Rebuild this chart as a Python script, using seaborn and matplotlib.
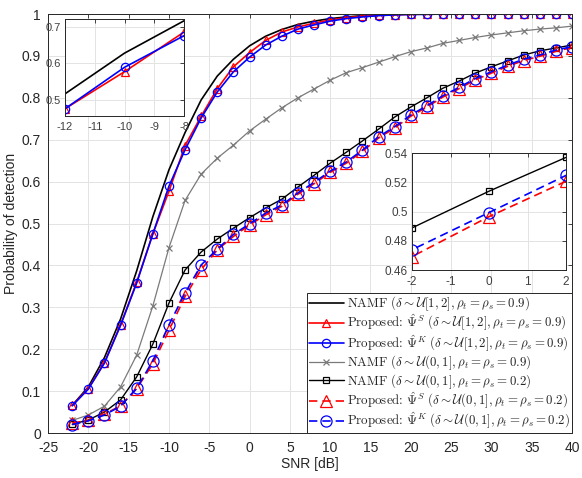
import numpy as np
import pandas as pd
import matplotlib
matplotlib.use("Agg")
import matplotlib.pyplot as plt
import seaborn as sns
from matplotlib.ticker import FuncFormatter

snr = list(range(-22, 41, 2))

namf_12_09 = [0.066, 0.110, 0.180, 0.272, 0.387, 0.516, 0.628, 0.717, 0.795, 0.852, 0.892, 0.924,
              0.947, 0.963, 0.975, 0.983, 0.989, 0.993, 0.996, 0.998, 0.999, 1.0, 1.0, 1.0,
              1.0, 1.0, 1.0, 1.0, 1.0, 1.0, 1.0, 1.0]
psiS_12_09 = [0.066, 0.106, 0.168, 0.258, 0.360, 0.475, 0.577, 0.686, 0.756, 0.822, 0.874, 0.908,
              0.937, 0.957, 0.969, 0.978, 0.986, 0.991, 0.995, 0.997, 0.998, 0.999, 1.0, 1.0,
              1.0, 1.0, 1.0, 1.0, 1.0, 1.0, 1.0, 1.0]
psiK_12_09 = [0.065, 0.105, 0.167, 0.257, 0.358, 0.475, 0.589, 0.676, 0.752, 0.814, 0.862, 0.897,
              0.926, 0.947, 0.964, 0.974, 0.983, 0.989, 0.993, 0.996, 0.998, 0.999, 0.999, 1.0,
              1.0, 1.0, 1.0, 1.0, 1.0, 1.0, 1.0, 1.0]
namf_01_09 = [0.030, 0.043, 0.064, 0.110, 0.186, 0.303, 0.442, 0.555, 0.618, 0.656, 0.687, 0.721,
              0.749, 0.776, 0.800, 0.821, 0.842, 0.860, 0.872, 0.885, 0.898, 0.910, 0.919, 0.930,
              0.937, 0.944, 0.950, 0.955, 0.960, 0.964, 0.967, 0.971]
namf_01_02 = [0.021, 0.031, 0.050, 0.079, 0.134, 0.212, 0.310, 0.389, 0.432, 0.463, 0.4888, 0.5139,
              0.537, 0.558, 0.587, 0.615, 0.644, 0.670, 0.697, 0.725, 0.754, 0.778, 0.800, 0.823,
              0.840, 0.859, 0.874, 0.888, 0.902, 0.912, 0.919, 0.926]
psiS_01_02 = [0.024, 0.030, 0.045, 0.065, 0.106, 0.165, 0.245, 0.326, 0.390, 0.437, 0.4692, 0.4965,
              0.5207, 0.541, 0.570, 0.595, 0.622, 0.644, 0.672, 0.704, 0.728, 0.756, 0.778, 0.802,
              0.822, 0.843, 0.859, 0.875, 0.889, 0.899, 0.911, 0.920]
psiK_01_02 = [0.020, 0.029, 0.043, 0.064, 0.107, 0.172, 0.258, 0.334, 0.401, 0.439, 0.4739, 0.4993,
              0.5247, 0.544, 0.573, 0.598, 0.625, 0.647, 0.675, 0.707, 0.731, 0.759, 0.781, 0.805,
              0.825, 0.846, 0.862, 0.878, 0.892, 0.902, 0.914, 0.922]

labels = [
    r'NAMF $(\delta \sim \mathcal{U}[1,2], \rho_t = \rho_s = 0.9)$',
    r'Proposed: $\hat{\Psi}^S\ (\delta \sim \mathcal{U}[1,2], \rho_t = \rho_s = 0.9)$',
    r'Proposed: $\hat{\Psi}^K\ (\delta \sim \mathcal{U}[1,2], \rho_t = \rho_s = 0.9)$',
    r'NAMF $(\delta \sim \mathcal{U}(0,1], \rho_t = \rho_s = 0.9)$',
    r'NAMF $(\delta \sim \mathcal{U}(0,1], \rho_t = \rho_s = 0.2)$',
    r'Proposed: $\hat{\Psi}^S\ (\delta \sim \mathcal{U}(0,1], \rho_t = \rho_s = 0.2)$',
    r'Proposed: $\hat{\Psi}^K\ (\delta \sim \mathcal{U}(0,1], \rho_t = \rho_s = 0.2)$',
]
series = [namf_12_09, psiS_12_09, psiK_12_09, namf_01_09, namf_01_02, psiS_01_02, psiK_01_02]

styles = [
    dict(color='black', lw=1.2, ls='-', marker=None, ms=0),
    dict(color='red', lw=1.2, ls='-', marker='^', ms=6),
    dict(color='blue', lw=1.2, ls='-', marker='o', ms=6),
    dict(color='#7a7a7a', lw=0.9, ls='-', marker='x', ms=4),
    dict(color='black', lw=1.0, ls='-', marker='s', ms=4.5),
    dict(color='red', lw=1.2, ls=(0, (5, 3)), marker='^', ms=8),
    dict(color='blue', lw=1.2, ls=(0, (5, 3)), marker='o', ms=8),
]

sns.set_style('white')
plt.rcParams['mathtext.fontset'] = 'cm'
plt.rcParams['axes.unicode_minus'] = False
plt.rcParams['font.family'] = ['Liberation Sans', 'DejaVu Sans']

fig = plt.figure(figsize=(5.82, 4.78), dpi=100)
ax = fig.add_axes([0.0825, 0.0941, 0.9003, 0.8766])


def draw(a, idx, legend=False):
    for i in idx:
        y, st, lab = series[i], styles[i], labels[i]
        df = pd.DataFrame({'SNR': snr, 'Pd': y})
        kw = dict(color=st['color'], linewidth=st['lw'], linestyle=st['ls'])
        if st['marker']:
            kw.update(marker=st['marker'], markersize=st['ms'], markerfacecolor='none',
                      markeredgecolor=st['color'], markeredgewidth=0.9)
        sns.lineplot(data=df, x='SNR', y='Pd', ax=a, label=lab if legend else None,
                     legend=False, **kw)


def style_axes(a, fs, tc, xpad, ypad):
    a.grid(True, color='#e3e3e3', linewidth=0.7)
    a.set_axisbelow(True)
    for s in a.spines.values():
        s.set_color('#262626')
        s.set_linewidth(0.7)
    a.tick_params(direction='in', length=3, width=0.6, top=True, right=True,
                  labelsize=fs, colors='#262626', labelcolor=tc)
    a.tick_params(axis='x', pad=xpad)
    a.tick_params(axis='y', pad=ypad)
    a.set_xlabel('')
    a.set_ylabel('')


draw(ax, range(7), legend=True)
ax.set_xlim(-25, 40)
ax.set_ylim(0, 1)
ax.set_xticks(np.arange(-25, 41, 5))
ax.set_yticks(np.arange(0, 1.01, 0.1))
ax.yaxis.set_major_formatter(FuncFormatter(lambda v, p: '%g' % round(v, 2)))
style_axes(ax, 10, '#262626', 6, 5)
ax.set_xlabel('SNR [dB]', fontsize=10, color='#262626', labelpad=1)
ax.set_ylabel('Probability of detection', fontsize=10, color='#262626', labelpad=3)

leg = ax.legend(loc='lower right', borderaxespad=0.0, frameon=True,
                prop={'family': 'cmr10', 'size': 9.3},
                fancybox=False, framealpha=1, edgecolor='#262626', handlelength=2.7,
                handletextpad=0.25, labelspacing=0.0, borderpad=0.15, numpoints=1)
leg.get_frame().set_linewidth(0.7)

# top-left inset
ax1 = fig.add_axes([0.1117, 0.7573, 0.2045, 0.2030])
draw(ax1, [0, 1, 2])
ax1.set_xlim(-12, -8)
ax1.set_ylim(0.455, 0.722)
ax1.set_xticks([-12, -11, -10, -9, -8])
ax1.set_yticks([0.5, 0.6, 0.7])
style_axes(ax1, 8, '#404040', 4, 3)

# bottom-right inset
ax2 = fig.add_axes([0.708, 0.4351, 0.2646, 0.2448])
draw(ax2, [4, 5, 6])
ax2.set_xlim(-2, 2)
ax2.set_ylim(0.46, 0.54)
ax2.set_xticks([-2, -1, 0, 1, 2])
ax2.set_yticks([0.46, 0.48, 0.5, 0.52, 0.54])
ax2.yaxis.set_major_formatter(FuncFormatter(lambda v, p: '%g' % round(v, 2)))
style_axes(ax2, 8.5, '#404040', 4, 3)

fig.savefig('out.png', dpi=100)
